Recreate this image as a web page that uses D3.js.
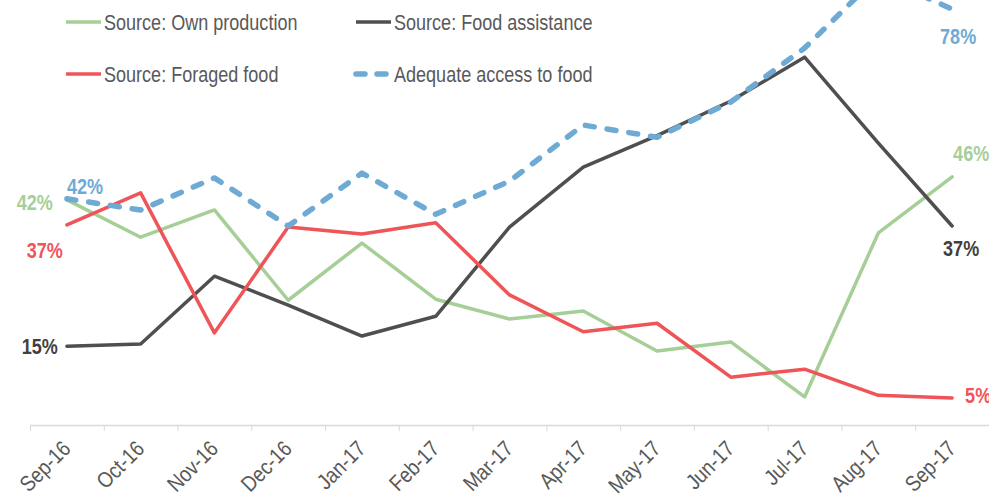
<!DOCTYPE html>
<html>
<head>
<meta charset="utf-8">
<script src="https://cdn.jsdelivr.net/npm/d3@7"></script>
<style>
  body { margin: 0; background: #fff; }
  svg { display: block; font-family: "Liberation Sans Narrow", "Arial Narrow", "Liberation Sans", Arial, sans-serif; }
</style>
</head>
<body>
<script>
const months = ["Sep-16", "Oct-16", "Nov-16", "Dec-16", "Jan-17", "Feb-17", "Mar-17",
  "Apr-17", "May-17", "Jun-17", "Jul-17", "Aug-17", "Sep-17"];

const ownProduction = [42, 35.0, 40.1, 23.2, 33.9, 23.4, 19.7, 21.2, 13.7, 15.4, 5.1, 35.8, 46.3];
const foodAssistance = [14.6, 15.0, 27.7, 22.3, 16.5, 20.2, 36.9, 48.1, 54.0, 60.5, 68.7, 52.6, 37.1];
const foragedFood = [37.3, 43.3, 17.1, 36.9, 35.6, 37.7, 24.2, 17.3, 18.9, 8.8, 10.3, 5.4, 4.9];
const adequateAccess = [42.2, 40.1, 46.1, 37.1, 47.0, 39.3, 45.5, 56.0, 53.7, 60.3, 70.4, 83.9, 77.7];

const width = 989;
const height = 496;
// no narrow font installed, so squeeze text horizontally
const narrow = 0.82;

const series = [
  { name: "Source: Own production", values: ownProduction, color: "#a6cf97", dash: null, width: 3.5 },
  { name: "Source: Food assistance", values: foodAssistance, color: "#4f4f4f", dash: null, width: 3.5 },
  { name: "Source: Foraged food", values: foragedFood, color: "#ef5558", dash: null, width: 3.5 },
  { name: "Adequate access to food", values: adequateAccess, color: "#6eaad4", dash: "9,13", width: 5.5 }
];

const svg = d3.select("body").append("svg")
  .attr("width", width)
  .attr("height", height);

const x = d3.scaleBand().domain(months).range([30, 989]);
const y = d3.scaleLinear().domain([0, 80]).range([424.2, -3.2]);
const cx = (d) => x(d) + x.bandwidth() / 2;

// axis
const axis = svg.append("g");
axis.append("line")
  .attr("x1", 30).attr("x2", 989)
  .attr("y1", 425.5).attr("y2", 425.5)
  .attr("stroke", "#d9d9d9").attr("stroke-width", 1.5);
axis.selectAll(".tick")
  .data(months)
  .enter()
  .append("line")
  .attr("x1", (d) => x(d) + 0.5).attr("x2", (d) => x(d) + 0.5)
  .attr("y1", 425).attr("y2", 431)
  .attr("stroke", "#d9d9d9").attr("stroke-width", 1);
axis.selectAll("text")
  .data(months)
  .enter()
  .append("text")
  .attr("transform", (d) => `translate(${cx(d) + 5}, 450) rotate(-45) scale(0.86, 1)`)
  .attr("text-anchor", "end")
  .attr("fill", "#595959")
  .style("font-size", "22px")
  .text((d) => d);

// lines
const line = d3.line()
  .x((d, i) => cx(months[i]))
  .y((d) => y(d));

svg.selectAll(".series")
  .data(series)
  .enter()
  .append("path")
  .attr("d", (d) => line(d.values))
  .attr("fill", "none")
  .attr("stroke", (d) => d.color)
  .attr("stroke-width", (d) => d.width)
  .attr("stroke-dasharray", (d) => d.dash)
  .attr("stroke-linecap", "round")
  .attr("stroke-linejoin", "round");

// legend
const legend = svg.append("g");
const legendPos = [[66, 22], [356, 22], [66, 74], [356, 74]];
series.forEach((s, i) => {
  const [lx, ly] = legendPos[i];
  legend.append("line")
    .attr("x1", lx).attr("x2", lx + 35)
    .attr("y1", ly).attr("y2", ly)
    .attr("stroke", s.color)
    .attr("stroke-width", s.dash ? 5.5 : 3.5)
    .attr("stroke-dasharray", s.dash ? "9,12" : null)
    .attr("stroke-linecap", s.dash ? "round" : "butt");
  legend.append("text")
    .attr("transform", `translate(${lx + 38}, ${ly}) scale(${narrow}, 1)`)
    .attr("dy", "0.35em")
    .attr("fill", "#595959")
    .style("font-size", "22px")
    .text(s.name);
});

// data labels at both ends
const fmt = (v) => `${Math.round(v)}%`;
const first = months[0];
const last = months[months.length - 1];
const labels = [
  { v: ownProduction[0], m: first, dx: -14, dy: 2, anchor: "end", color: "#a6cf97" },
  { v: foragedFood[0], m: first, dx: -4, dy: 25, anchor: "end", color: "#ef5558" },
  { v: adequateAccess[0], m: first, dx: 0, dy: -12, anchor: "start", color: "#6eaad4" },
  { v: foodAssistance[0], m: first, dx: -9, dy: 0, anchor: "end", color: "#404040" },
  { v: adequateAccess[12], m: last, dx: 6, dy: 27, anchor: "middle", color: "#6eaad4" },
  { v: ownProduction[12], m: last, dx: 1, dy: -24, anchor: "start", color: "#a6cf97" },
  { v: foodAssistance[12], m: last, dx: 9, dy: 22, anchor: "middle", color: "#404040" },
  { v: foragedFood[12], m: last, dx: 13, dy: -3, anchor: "start", color: "#ef5558" }
];
svg.selectAll(".label")
  .data(labels)
  .enter()
  .append("text")
  .attr("transform", (d) => `translate(${cx(d.m) + d.dx}, ${y(d.v) + d.dy}) scale(${narrow}, 1)`)
  .attr("dy", "0.35em")
  .attr("text-anchor", (d) => d.anchor)
  .attr("fill", (d) => d.color)
  .style("font-size", "22px")
  .style("font-weight", "bold")
  .text((d) => fmt(d.v));
</script>
</body>
</html>
